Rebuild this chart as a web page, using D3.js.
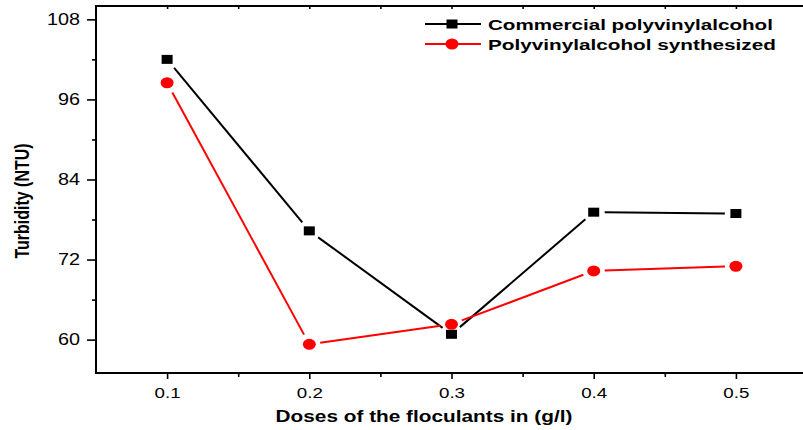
<!DOCTYPE html>
<html lang="en">
<head>
    <meta charset="UTF-8">
    <title>Turbidity vs floculant dose</title>
    <script src="https://d3js.org/d3.v7.min.js"></script>
    <style>
        body { margin: 0; background: #fff; }
        svg { display: block; font-family: "Liberation Sans", Arial, sans-serif; }
    </style>
</head>
<body>
    <svg id="chart" width="803" height="430"></svg>

    <script>
        // values
        const doses = [0.1, 0.2, 0.3, 0.4, 0.5];
        const commercial = [102.0, 76.3, 60.8, 79.1, 78.9];
        const synthesized = [98.5, 59.3, 62.3, 70.3, 71.0];
        const seriesNames = ["Commercial polyvinylalcohol", "Polyvinylalcohol synthesized"];
        const yTicks = [60, 72, 84, 96, 108];
        const yMinor = [66, 78, 90, 102];
        const xTicks = [0.1, 0.2, 0.3, 0.4, 0.5];
        const xMinor = [0.15, 0.25, 0.35, 0.45];
        const xTitle = "Doses of the floculants in (g/l)";
        const yTitle = "Turbidity (NTU)";

        const svg = d3.select("#chart");
        const x = d3.scaleLinear().domain([0.05, 0.55]).range([96, 807]);
        const y = d3.scaleLinear().domain([55, 110]).range([373, 6]);

        // the original picture is stretched sideways, so stretch text the same way
        function stretch(sel, factor) {
            sel.each(function () {
                const t = d3.select(this);
                const x0 = +t.attr("x") || 0;
                t.attr("x", x0 / factor).attr("transform", `scale(${factor},1)`);
            });
        }

        // left axis
        const gy = svg.append("g").attr("transform", "translate(96,0)")
            .call(d3.axisLeft(y).tickValues(yTicks).tickSize(9).tickPadding(7).tickFormat(d3.format("d")));
        gy.selectAll("text").attr("font-size", 16.5).attr("fill", "#000");
        stretch(gy.selectAll("text"), 1.2);
        svg.append("g").attr("transform", "translate(96,0)")
            .call(d3.axisLeft(y).tickValues(yMinor).tickSize(4).tickFormat(""));

        // bottom axis
        const gx = svg.append("g").attr("transform", "translate(0,373)")
            .call(d3.axisBottom(x).tickValues(xTicks).tickSize(6).tickPadding(8).tickFormat(d3.format(".1f")));
        gx.selectAll("text").attr("font-size", 15).attr("fill", "#000");
        stretch(gx.selectAll("text"), 1.25);
        svg.append("g").attr("transform", "translate(0,373)")
            .call(d3.axisBottom(x).tickValues(xMinor).tickSize(4).tickFormat(""));

        // top axis, ticks pointing inward
        svg.append("g").attr("transform", "translate(0,6)")
            .call(d3.axisTop(x).tickValues(xTicks.concat(xMinor)).tickSize(-3).tickFormat(""));

        svg.selectAll(".domain").remove();
        svg.selectAll(".tick line").attr("stroke", "#000").attr("stroke-width", 1.6);

        // frame
        svg.append("path")
            .attr("d", `M${x(0.55)},${y(110)}H${x(0.05)}V${y(55)}H${x(0.55)}`)
            .attr("fill", "none").attr("stroke", "#000").attr("stroke-width", 2);

        // axis titles, scaled to the widths seen in the picture
        function fitText(t, width) {
            const w = t.node().getComputedTextLength();
            return width / w;
        }
        const xt = svg.append("text").attr("text-anchor", "middle")
            .attr("font-size", 16).attr("font-weight", "bold").text(xTitle);
        const sx = fitText(xt, 297);
        xt.attr("transform", `translate(424,421.5) scale(${sx},1)`);

        svg.append("text")
            .attr("transform", "translate(29,201) scale(1.3,1) rotate(-90)")
            .attr("text-anchor", "middle").attr("font-size", 16).attr("font-weight", "bold")
            .text(yTitle);

        // series
        const series = [
            { name: seriesNames[0], values: commercial, color: "#000", shape: "square", width: 285 },
            { name: seriesNames[1], values: synthesized, color: "#ff0000", shape: "circle", width: 288 }
        ];

        const gap = 11;
        function drawMarker(g, shape, color, cx, cy) {
            if (shape === "square") {
                g.append("rect").attr("x", cx - 5.5).attr("y", cy - 4.5)
                    .attr("width", 11).attr("height", 9).attr("fill", color);
            } else {
                g.append("ellipse").attr("cx", cx).attr("cy", cy)
                    .attr("rx", 6.5).attr("ry", 5.5).attr("fill", color);
            }
        }

        series.forEach(s => {
            const g = svg.append("g");
            const pts = doses.map((d, i) => [x(d), y(s.values[i])]);
            // lines stop short of the markers
            for (let i = 0; i < pts.length - 1; i++) {
                const [x1, y1] = pts[i], [x2, y2] = pts[i + 1];
                const len = Math.hypot(x2 - x1, y2 - y1);
                const ux = (x2 - x1) / len, uy = (y2 - y1) / len;
                g.append("line")
                    .attr("x1", x1 + ux * gap).attr("y1", y1 + uy * gap)
                    .attr("x2", x2 - ux * gap).attr("y2", y2 - uy * gap)
                    .attr("stroke", s.color).attr("stroke-width", 2);
            }
            pts.forEach(p => drawMarker(g, s.shape, s.color, p[0], p[1]));
        });

        // legend
        const legend = svg.append("g");
        series.forEach((s, i) => {
            const cy = 24 + i * 20;
            legend.append("line").attr("x1", 425).attr("x2", 481).attr("y1", cy).attr("y2", cy)
                .attr("stroke", s.color).attr("stroke-width", 2);
            drawMarker(legend, s.shape, s.color, 452, cy);
            const t = legend.append("text").attr("font-size", 15.5).attr("font-weight", "bold").text(s.name);
            const k = fitText(t, s.width);
            t.attr("transform", `translate(488,${cy + 5.5}) scale(${k},1)`);
        });
    </script>
</body>
</html>
